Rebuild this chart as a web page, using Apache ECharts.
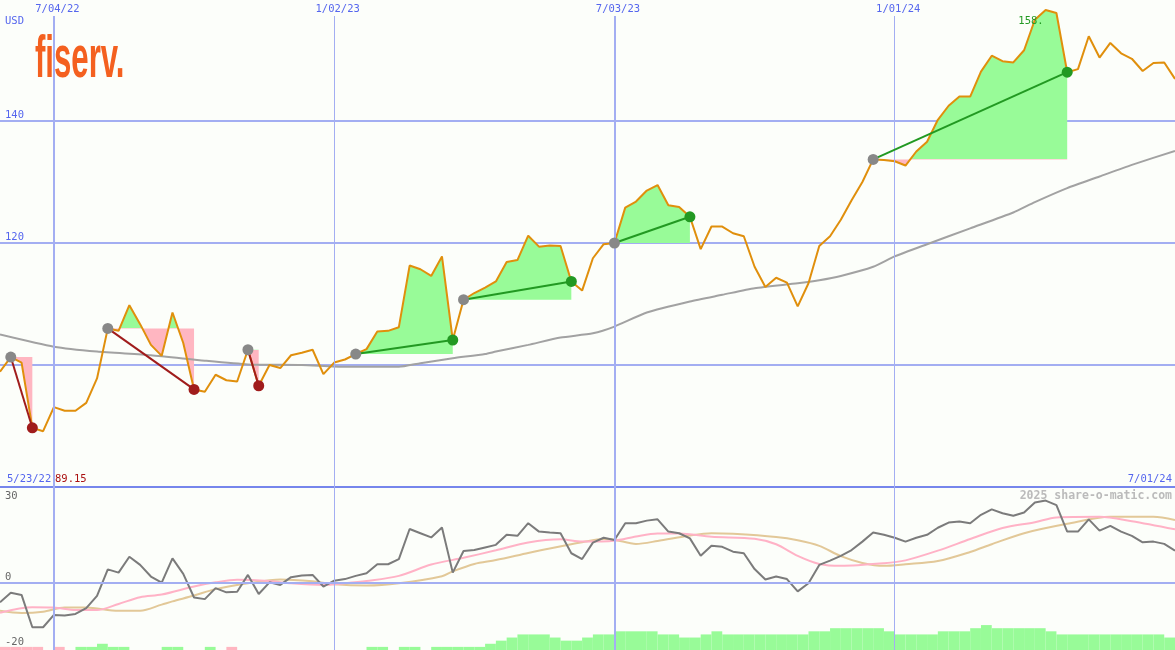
<!DOCTYPE html>
<html><head><meta charset="utf-8">
<script src="https://cdn.jsdelivr.net/npm/echarts@6/dist/echarts.min.js"></script>
<style>html,body{margin:0;padding:0;background:#fcfefa}#c{width:1175px;height:650px}</style>
</head><body><div id="c"></div>
<script>
// ---------- data ----------
const startDate = Date.UTC(2022, 4, 30);
const endDate = Date.UTC(2024, 6, 1);
const weekMs = 7 * 864e5;

// weekly close (USD), first week 2022-05-30
const price = [
  98.9, 101.3, 100.4, 89.7, 89.15, 93.1, 92.5, 92.5, 93.8, 97.8,
  106.0, 105.6, 109.8, 106.7, 103.3, 101.5, 108.6, 103.6, 96.0, 95.6,
  98.4, 97.5, 97.3, 102.5, 96.6, 100.0, 99.5, 101.6, 102.0, 102.5,
  98.5, 100.4, 100.9, 101.8, 102.6, 105.5, 105.6, 106.2, 116.3, 115.7,
  114.6, 117.8, 104.1, 110.7, 111.8, 112.7, 113.7, 116.9, 117.2, 121.2,
  119.4, 119.6, 119.5, 113.7, 112.2, 117.5, 119.8, 120.0, 125.8, 126.8,
  128.6, 129.5, 126.2, 125.9, 124.3, 119.0, 122.7, 122.7, 121.6, 121.1,
  116.1, 112.8, 114.3, 113.5, 109.6, 113.4, 119.5, 121.1, 123.8, 127.0,
  130.0, 133.7, 133.6, 133.4, 132.7, 135.0, 136.6, 140.2, 142.5, 144.0,
  144.0, 148.1, 150.7, 149.8, 149.6, 151.6, 156.6, 158.2, 157.7, 148.0,
  148.5, 153.9, 150.4, 152.8, 151.1, 150.2, 148.2, 149.5, 149.6, 146.9
];

// long moving average (read at selected weeks)
const maWeeks = [0, 5, 9, 14, 19, 23, 28, 32, 37, 39, 42, 45, 46, 49, 52, 55, 57, 60, 64, 67, 70, 74, 76, 78, 81, 83, 86, 90, 94, 96, 99, 102, 105, 109];
const maValues = [105.0, 103.0, 102.2, 101.6, 100.7, 100.1, 100.0, 99.7, 99.7, 100.3, 101.1, 101.8, 102.2, 103.3, 104.5, 105.2, 106.3, 108.6, 110.4, 111.5, 112.6, 113.4, 113.9, 114.6, 116.1, 117.8, 119.8, 122.4, 125.0, 126.7, 129.0, 130.9, 132.8, 135.1];

// trades: entry week / exit week
const tradeEntry = [1, 10, 23, 33, 43, 57, 81];
const tradeExit = [3, 18, 24, 42, 53, 64, 99];

// lower panel: momentum (weekly)
const momentum = [
  -6.0, -3.0, -3.7, -13.7, -13.7, -9.9, -10.1, -9.6, -7.8, -4.0,
  4.2, 3.2, 8.1, 5.6, 2.0, 0.1, 7.6, 2.8, -4.5, -5.0,
  -1.6, -2.9, -2.7, 2.5, -3.4, 0.2, -0.6, 1.8, 2.3, 2.5,
  -1.1, 0.7, 1.2, 2.2, 3.0, 5.8, 5.8, 7.4, 16.7, 15.4,
  14.1, 17.2, 3.2, 9.9, 10.2, 11.0, 11.8, 14.9, 14.6, 18.5,
  15.9, 15.6, 15.4, 9.2, 7.4, 12.5, 14.0, 13.3, 18.5, 18.5,
  19.3, 19.7, 15.9, 15.4, 13.8, 8.4, 11.5, 11.2, 9.7, 9.2,
  4.3, 1.1, 2.0, 1.2, -2.6, -0.1, 5.6, 6.9, 8.4, 10.2,
  12.8, 15.6, 14.9, 14.0, 12.8, 14.0, 14.9, 17.1, 18.7, 19.0,
  18.5, 21.1, 22.8, 21.6, 20.8, 21.8, 24.9, 25.5, 24.1, 15.9,
  15.9, 19.7, 16.2, 17.7, 15.9, 14.6, 12.6, 12.8, 12.1, 10.0
];
// smoothed lines (read at selected weeks)
const pinkWeeks = [0, 3, 5, 7, 9, 11, 13, 15, 18, 20, 22, 25, 27, 30, 32, 34, 37, 40, 43, 46, 49, 52, 54, 57, 59, 61, 63, 66, 70, 72, 74, 76, 78, 82, 84, 87, 90, 93, 96, 98, 102, 105, 109];
const pinkValues = [-9.2, -7.5, -7.6, -8.4, -8.4, -6.5, -4.4, -3.6, -1.1, 0.2, 1.0, 0.6, -0.1, -0.6, -0.1, 0.6, 2.2, 5.7, 7.8, 10.1, 12.5, 13.5, 12.8, 13.1, 14.4, 15.3, 15.3, 14.3, 13.7, 12.0, 8.4, 5.9, 5.3, 6.1, 7.0, 10.0, 13.6, 17.0, 18.8, 20.3, 20.5, 19.1, 16.6];
const tanWeeks = [0, 2, 4, 6, 8, 11, 13, 15, 16, 18, 20, 23, 26, 29, 31, 34, 37, 41, 42, 44, 46, 49, 51, 54, 56, 57, 59, 61, 64, 66, 68, 72, 74, 76, 78, 80, 82, 84, 87, 90, 92, 95, 99, 103, 107, 109];
const tanValues = [-8.6, -9.3, -8.9, -7.6, -7.6, -8.6, -8.6, -6.7, -5.7, -3.9, -1.9, -0.1, 1.1, 0.5, -0.4, -0.8, -0.1, 2.1, 3.6, 5.9, 7.1, 9.3, 10.7, 12.6, 13.6, 13.4, 12.1, 13.0, 14.7, 15.4, 15.2, 14.2, 13.2, 11.5, 8.3, 6.2, 5.3, 5.8, 6.8, 9.6, 12.0, 15.4, 18.3, 20.5, 20.5, 19.5];
// weekly strength bars: + green, - pink
const strength = [
  -1, -1, -1, -1, 0, -1, 0, 1, 1, 2,
  1, 1, 0, 0, 0, 1, 1, 0, 0, 1,
  0, -1, 0, 0, 0, 0, 0, 0, 0, 0,
  0, 0, 0, 0, 1, 1, 0, 1, 1, 0,
  1, 1, 1, 1, 1, 2, 3, 4, 5, 5,
  5, 4, 3, 3, 4, 5, 5, 6, 6, 6,
  6, 5, 5, 4, 4, 5, 6, 5, 5, 5,
  5, 5, 5, 5, 5, 6, 6, 7, 7, 7,
  7, 7, 6, 5, 5, 5, 5, 6, 6, 6,
  7, 8, 7, 7, 7, 7, 7, 6, 5, 5,
  5, 5, 5, 5, 5, 5, 5, 5, 4
];

const tickDates = [Date.UTC(2022, 6, 4), Date.UTC(2023, 0, 2), Date.UTC(2023, 6, 3), Date.UTC(2024, 0, 1)];
const tickLabels = ['7/04/22', '1/02/23', '7/03/23', '1/01/24'];
const mainYLabels = [120, 140];
const subYLabels = [-20, 0];

// ---------- styles ----------
const BG = '#fcfefa';
const GRID = '#a3aef2';
const GRID_DARK = '#7686ec';
const BLUE_TXT = '#5566ee';
const ORANGE = '#e08f0c';
const GREEN_FILL = '#98fb98';
const PINK_FILL = '#ffb6c1';
const WIN = '#229922';
const LOSS = '#a01c1c';
const ENTRY = '#888888';
const MONO = '"DejaVu Sans Mono", monospace';
const FS = 10.5;

const weekTs = price.map((_, i) => startDate + i * weekMs);
const pricePts = price.map((v, i) => [weekTs[i], v]);

const series = [];
const visualMaps = [];

// trade fill areas
tradeEntry.forEach((e, k) => {
  const x = tradeExit[k];
  const L = price[e];
  visualMaps.push({
    type: 'piecewise', show: false, seriesIndex: series.length, dimension: 1,
    pieces: [{ gte: 0, lt: L, color: PINK_FILL }, { gte: L, lte: 1000, color: GREEN_FILL }]
  });
  series.push({
    type: 'line', xAxisIndex: 0, yAxisIndex: 0, data: pricePts.slice(e, x + 1),
    symbol: 'none', silent: true, z: 2,
    lineStyle: { width: 0, opacity: 0 },
    areaStyle: { origin: L, opacity: 1 }
  });
});

// long MA
series.push({
  type: 'line', xAxisIndex: 0, yAxisIndex: 0, z: 3, symbol: 'none', silent: true, smooth: 0.2,
  data: maWeeks.map((w, i) => [weekTs[w], maValues[i]]),
  lineStyle: { color: '#a2a2a2', width: 2 }
});

// price
series.push({
  type: 'line', xAxisIndex: 0, yAxisIndex: 0, z: 4, symbol: 'none', silent: true,
  data: pricePts,
  lineStyle: { color: ORANGE, width: 2 },
  markPoint: {
    symbol: 'circle', symbolSize: 0, silent: true,
    data: [{ type: 'max' }],
    label: { show: true, position: 'left', distance: 2, offset: [0, 11], color: WIN,
      fontFamily: MONO, fontSize: FS, formatter: p => Math.floor(p.value) + '.' }
  }
});

// trade connectors + markers
tradeEntry.forEach((e, k) => {
  const x = tradeExit[k];
  const win = price[x] >= price[e];
  const c = win ? WIN : LOSS;
  series.push({
    type: 'line', xAxisIndex: 0, yAxisIndex: 0, z: 5, silent: true,
    symbol: 'circle', symbolSize: 11, showSymbol: true,
    lineStyle: { color: c, width: 2 },
    data: [
      { value: [weekTs[e], price[e]], itemStyle: { color: ENTRY } },
      { value: [weekTs[x], price[x]], itemStyle: { color: c } }
    ]
  });
});

// vertical date lines (spanning both panels)
series.push({
  type: 'line', xAxisIndex: 3, yAxisIndex: 3, z: 1, silent: true, symbol: 'none',
  data: tickDates.map(t => [t, 0]), lineStyle: { opacity: 0 },
  markLine: {
    symbol: 'none', silent: true, animation: false,
    label: { show: true, position: 'end', distance: 1, padding: [0, 0, 0, 7], color: BLUE_TXT, fontFamily: MONO, fontSize: FS },
    lineStyle: { type: 'solid', color: GRID, width: 2 },
    data: tickDates.map((t, i) => ({ xAxis: t, label: { formatter: tickLabels[i] },
      lineStyle: { type: 'solid', color: GRID, width: i % 2 === 0 ? 2 : 1 } }))
  }
});

// lower panel zero line
series.push({
  type: 'line', xAxisIndex: 1, yAxisIndex: 1, z: 1, silent: true, symbol: 'none',
  data: [[startDate, 0]], lineStyle: { opacity: 0 },
  markLine: {
    symbol: 'none', silent: true, animation: false, label: { show: false },
    lineStyle: { type: 'solid', color: GRID, width: 2 },
    data: [{ yAxis: 0 }]
  }
});

// strength bars
series.push({
  type: 'bar', xAxisIndex: 2, yAxisIndex: 2, z: 1, silent: true,
  barWidth: '100%', barCategoryGap: 0,
  data: strength.map(v => ({ value: Math.abs(v), itemStyle: { color: v >= 0 ? GREEN_FILL : PINK_FILL } }))
});

// smoothed lines
series.push({
  type: 'line', xAxisIndex: 1, yAxisIndex: 1, z: 2, symbol: 'none', silent: true, smooth: 0.3,
  data: tanWeeks.map((w, i) => [weekTs[w], tanValues[i]]),
  lineStyle: { color: '#e2c898', width: 2 }
});
series.push({
  type: 'line', xAxisIndex: 1, yAxisIndex: 1, z: 3, symbol: 'none', silent: true, smooth: 0.3,
  data: pinkWeeks.map((w, i) => [weekTs[w], pinkValues[i]]),
  lineStyle: { color: '#ffb2c6', width: 2 }
});
series.push({
  type: 'line', xAxisIndex: 1, yAxisIndex: 1, z: 4, symbol: 'none', silent: true,
  data: momentum.map((v, i) => [weekTs[i], v]),
  lineStyle: { color: '#7b7b7b', width: 2 }
});

const chart = echarts.init(document.getElementById('c'), null, { renderer: 'canvas' });
chart.setOption({
  backgroundColor: BG,
  animation: false,
  grid: [
    { left: 0, right: 0, top: -1, height: 488, outerBoundsMode: 'none' },
    { left: 0, right: 0, top: 488, height: 162, outerBoundsMode: 'none' },
    { left: 0, right: 0, top: 16, bottom: 0, outerBoundsMode: 'none' }
  ],
  xAxis: [
    { type: 'time', gridIndex: 0, min: startDate, max: endDate, show: false },
    { type: 'time', gridIndex: 1, min: startDate, max: endDate, show: false },
    { type: 'category', gridIndex: 1, data: strength.map((_, i) => weekTs[i]), boundaryGap: true, show: false },
    { type: 'time', gridIndex: 2, min: startDate, max: endDate, show: false }
  ],
  yAxis: [
    { type: 'value', gridIndex: 0, min: 80, max: 160, interval: 20,
      axisLine: { show: false }, axisTick: { show: false },
      splitLine: { show: true, lineStyle: { color: [GRID_DARK, GRID, GRID, GRID, GRID], width: 2 } },
      axisLabel: { inside: true, margin: 5, verticalAlign: 'bottom', color: BLUE_TXT, fontFamily: MONO, fontSize: FS,
        formatter: v => mainYLabels.includes(v) ? String(v) : '' } },
    { type: 'value', gridIndex: 1, min: -20.75, max: 29.4,
      axisLine: { show: false }, axisTick: { show: false }, splitLine: { show: false },
      axisLabel: { inside: true, margin: 5, verticalAlign: 'bottom', color: '#666666', fontFamily: MONO, fontSize: FS,
        customValues: subYLabels, formatter: v => String(v) } },
    { type: 'value', gridIndex: 1, min: 0, max: 52, show: false },
    { type: 'value', gridIndex: 2, min: 0, max: 1, show: false }
  ],
  visualMap: visualMaps,
  series: series,
  graphic: [
    { type: 'text', x: 35, y: 61, scaleX: 0.528, silent: true,
      style: { text: 'fiserv.', fill: '#f4601f', font: 'bold 59px "Liberation Sans"', align: 'left', verticalAlign: 'middle' } },
    { type: 'text', x: 5, y: 21, silent: true,
      style: { text: 'USD', fill: BLUE_TXT, font: FS + 'px ' + MONO, align: 'left', verticalAlign: 'middle' } },
    { type: 'text', x: 7, y: 479, silent: true,
      style: { text: '5/23/22', fill: BLUE_TXT, font: FS + 'px ' + MONO, align: 'left', verticalAlign: 'middle' } },
    { type: 'text', x: 55, y: 479, silent: true,
      style: { text: '89.15', fill: '#aa1111', font: FS + 'px ' + MONO, align: 'left', verticalAlign: 'middle' } },
    { type: 'text', x: 1172, y: 479, silent: true,
      style: { text: '7/01/24', fill: BLUE_TXT, font: FS + 'px ' + MONO, align: 'right', verticalAlign: 'middle' } },
    { type: 'text', x: 1172, y: 496, silent: true,
      style: { text: '2025 share-o-matic.com', fill: '#bbbbbb', font: 'bold 11.5px ' + MONO, align: 'right', verticalAlign: 'middle' } },
    { type: 'text', x: 5, y: 496, silent: true,
      style: { text: '30', fill: '#666666', font: FS + 'px ' + MONO, align: 'left', verticalAlign: 'middle' } }
  ]
});
</script></body></html>
